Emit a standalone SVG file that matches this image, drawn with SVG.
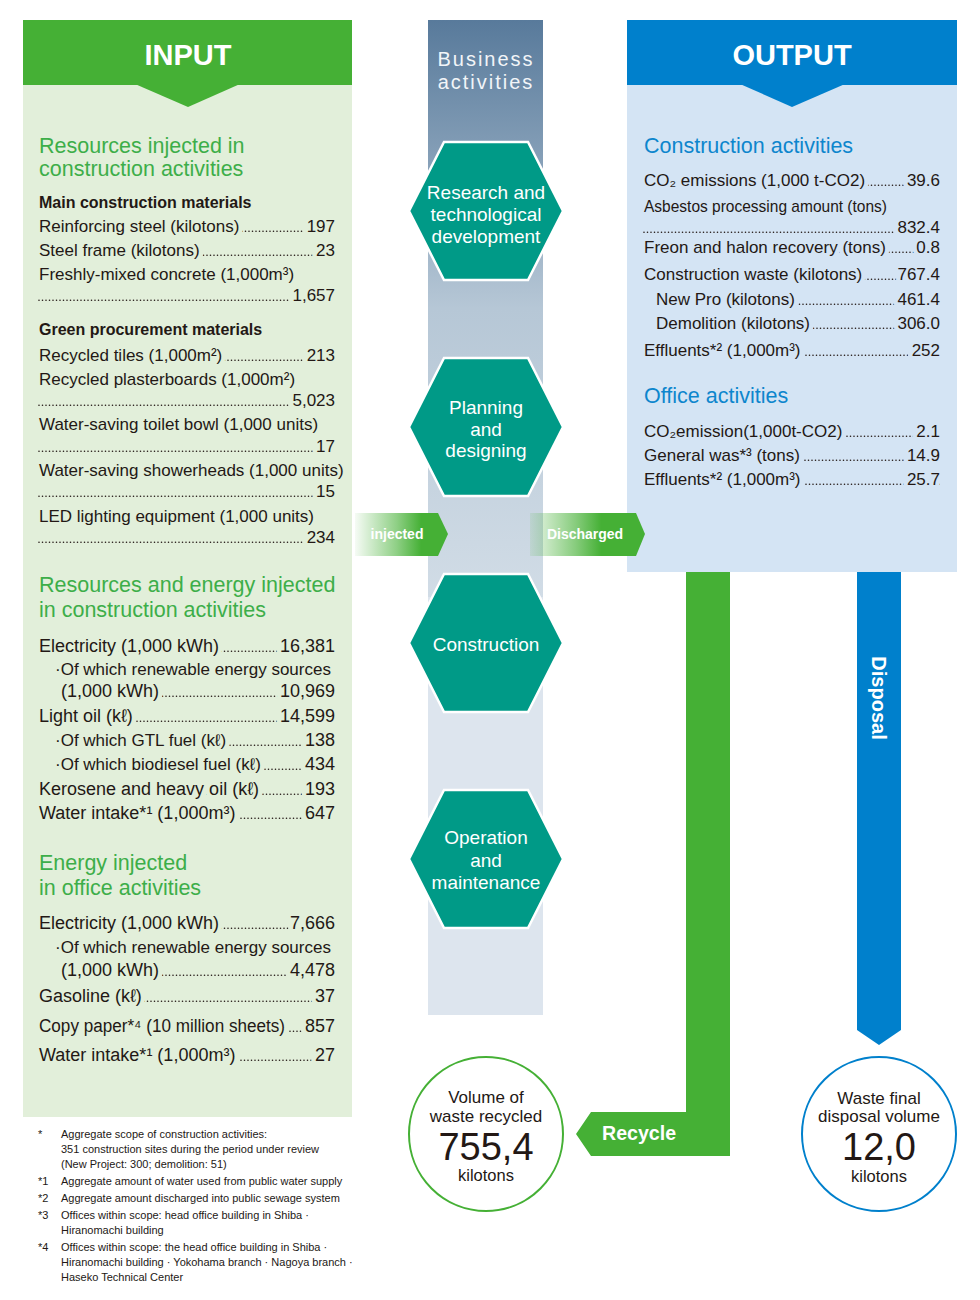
<svg xmlns="http://www.w3.org/2000/svg" width="980" height="1300" viewBox="0 0 980 1300">
<style>
.t{font-family:'Liberation Sans','DejaVu Sans',sans-serif;fill:#231815}
.s16b{font-size:16px;font-weight:bold}
.s17{font-size:17px}
.s18{font-size:18px}
.hin{font-size:21.5px;fill:#3dae49}
.hout{font-size:21.5px;fill:#0d86cd}
.mi{stroke:#e2efda;stroke-width:9;paint-order:stroke;stroke-linejoin:round}
.mo{stroke:#d4e4f4;stroke-width:9;paint-order:stroke;stroke-linejoin:round}
.ld{stroke:#231815;stroke-width:1.6;stroke-dasharray:0 3.5;stroke-linecap:round;fill:none}
.e{text-anchor:end}
.m{text-anchor:middle}
.hdr{font-family:'Liberation Sans',sans-serif;font-size:29px;font-weight:bold;fill:#fff;text-anchor:middle}
.hx{font-family:'Liberation Sans',sans-serif;font-size:19px;fill:#fff;text-anchor:middle}
.hexs{fill:#009a87;stroke:#fff;stroke-width:2.5}
.arr{font-family:'Liberation Sans',sans-serif;font-weight:bold;fill:#fff}
.fn{font-family:'Liberation Sans',sans-serif;font-size:11px;fill:#231815}
</style>
<defs>
<polygon id="hex" class="hexs" points="-77,0 -42,-69 42,-69 77,0 42,69 -42,69"/>
<linearGradient id="colg" x1="0" y1="20" x2="0" y2="597" gradientUnits="userSpaceOnUse">
<stop offset="0" stop-color="#587a9b"/>
<stop offset="0.5" stop-color="#b6c7d6"/>
<stop offset="1" stop-color="#d1dce6"/>
</linearGradient>
<linearGradient id="ing" x1="355" y1="0" x2="447" y2="0" gradientUnits="userSpaceOnUse">
<stop offset="0" stop-color="#45b035" stop-opacity="0.05"/>
<stop offset="0.45" stop-color="#45b035" stop-opacity="0.6"/>
<stop offset="0.72" stop-color="#45b035" stop-opacity="1"/>
<stop offset="1" stop-color="#45b035" stop-opacity="1"/>
</linearGradient>
<linearGradient id="disg" x1="530" y1="0" x2="645" y2="0" gradientUnits="userSpaceOnUse">
<stop offset="0" stop-color="#45b035" stop-opacity="0.1"/>
<stop offset="0.4" stop-color="#45b035" stop-opacity="0.65"/>
<stop offset="0.62" stop-color="#45b035" stop-opacity="1"/>
<stop offset="1" stop-color="#45b035" stop-opacity="1"/>
</linearGradient>
</defs>
<rect width="980" height="1300" fill="#fff"/>

<g id="input-panel">
<rect x="23" y="85" width="329" height="1032" fill="#e2efda"/>
<rect x="23" y="20" width="329" height="65" fill="#45b035"/>
<polygon points="135,84 240,84 188,107" fill="#45b035"/>
<text class="hdr" x="188" y="65">INPUT</text>
<path class="ld" d="M39 231.2H335M39 255.2H335M39 300.2H335M39 360.2H335M39 405.2H335M39 451.2H335M39 496.2H335M39 542.2H335M39 651.2H335M61 696.2H335M39 721.2H335M62 745.2H335M62 769.2H335M39 794.2H335M241 818.2H335M39 928.2H335M61 975.2H335M39 1001.2H335M290 1031.2H335M241 1060.2H335"/>
<g class="t">
<text class="hin" x="39" y="153">Resources injected in</text>
<text class="hin" x="39" y="176">construction activities</text>
<text class="s16b" x="39" y="208">Main construction materials</text>
<text class="s17 mi" x="39" y="232">Reinforcing steel (kilotons)</text><text class="s17 mi e" x="335" y="232">197</text>
<text class="s17 mi" x="39" y="256">Steel frame (kilotons)</text><text class="s17 mi e" x="335" y="256">23</text>
<text class="s17" x="39" y="280">Freshly-mixed concrete (1,000m³)</text>
<text class="s17 mi e" x="335" y="301">1,657</text>
<text class="s16b" x="39" y="335">Green procurement materials</text>
<text class="s17 mi" x="39" y="361">Recycled tiles (1,000m²)</text><text class="s17 mi e" x="335" y="361">213</text>
<text class="s17" x="39" y="385">Recycled plasterboards (1,000m²)</text>
<text class="s17 mi e" x="335" y="406">5,023</text>
<text class="s17" x="39" y="430">Water-saving toilet bowl (1,000 units)</text>
<text class="s17 mi e" x="335" y="452">17</text>
<text class="s17" x="39" y="476">Water-saving showerheads (1,000 units)</text>
<text class="s17 mi e" x="335" y="497">15</text>
<text class="s17" x="39" y="522">LED lighting equipment (1,000 units)</text>
<text class="s17 mi e" x="335" y="543">234</text>

<text class="hin" x="39" y="592">Resources and energy injected</text>
<text class="hin" x="39" y="617">in construction activities</text>
<text class="s18 mi" x="39" y="652">Electricity (1,000 kWh)</text><text class="s18 mi e" x="335" y="652">16,381</text>
<text class="s17" x="55" y="675">·Of which renewable energy sources</text>
<text class="s18 mi" x="61" y="697">(1,000 kWh)</text><text class="s18 mi e" x="335" y="697">10,969</text>
<text class="s18 mi" x="39" y="722">Light oil (kℓ)</text><text class="s18 mi e" x="335" y="722">14,599</text>
<text class="s17 mi" x="55" y="746">·Of which GTL fuel (kℓ)</text><text class="s18 mi e" x="335" y="746">138</text>
<text class="s17 mi" x="55" y="770">·Of which biodiesel fuel (kℓ)</text><text class="s18 mi e" x="335" y="770">434</text>
<text class="s18 mi" x="39" y="795">Kerosene and heavy oil (kℓ)</text><text class="s18 mi e" x="335" y="795">193</text>
<text class="s18 mi" x="39" y="819">Water intake*¹ (1,000m³)</text><text class="s18 mi e" x="335" y="819">647</text>

<text class="hin" x="39" y="870">Energy injected</text>
<text class="hin" x="39" y="895">in office activities</text>
<text class="s18 mi" x="39" y="929">Electricity (1,000 kWh)</text><text class="s18 mi e" x="335" y="929">7,666</text>
<text class="s17" x="55" y="953">·Of which renewable energy sources</text>
<text class="s18 mi" x="61" y="976">(1,000 kWh)</text><text class="s18 mi e" x="335" y="976">4,478</text>
<text class="s18 mi" x="39" y="1002">Gasoline (kℓ)</text><text class="s18 mi e" x="335" y="1002">37</text>
<text class="s18 mi" x="39" y="1032" textLength="246" lengthAdjust="spacingAndGlyphs">Copy paper*⁴ (10 million sheets)</text><text class="s18 mi e" x="335" y="1032">857</text>
<text class="s18 mi" x="39" y="1061">Water intake*¹ (1,000m³)</text><text class="s18 mi e" x="335" y="1061">27</text>
</g>
</g>

<g id="output-panel">
<rect x="627" y="85" width="330" height="487" fill="#d4e4f4"/>
<rect x="627" y="20" width="330" height="65" fill="#0080cc"/>
<polygon points="740,84 845,84 792,107" fill="#0080cc"/>
<text class="hdr" x="792" y="65">OUTPUT</text>
<path class="ld" d="M644 185.2H940M644 232.2H940M644 252.2H940M644 279.2H940M656 304.2H940M656 328.2H940M806 355.2H940M644 436.2H940M805 460.2H940M806 484.2H940"/>
<g class="t">
<text class="hout" x="644" y="153">Construction activities</text>
<text class="s17 mo" x="644" y="186">CO₂ emissions (1,000 t-CO2)</text><text class="s17 mo e" x="940" y="186">39.6</text>
<text class="s17" x="644" y="212" textLength="243" lengthAdjust="spacingAndGlyphs">Asbestos processing amount (tons)</text>
<text class="s17 mo e" x="940" y="233">832.4</text>
<text class="s17 mo" x="644" y="253">Freon and halon recovery (tons)</text><text class="s17 mo e" x="940" y="253">0.8</text>
<text class="s17 mo" x="644" y="280">Construction waste (kilotons)</text><text class="s17 mo e" x="940" y="280">767.4</text>
<text class="s17 mo" x="656" y="305">New Pro (kilotons)</text><text class="s17 mo e" x="940" y="305">461.4</text>
<text class="s17 mo" x="656" y="329">Demolition (kilotons)</text><text class="s17 mo e" x="940" y="329">306.0</text>
<text class="s17 mo" x="644" y="356">Effluents*² (1,000m³)</text><text class="s17 mo e" x="940" y="356">252</text>
<text class="hout" x="644" y="403">Office activities</text>
<text class="s17 mo" x="644" y="437">CO₂emission(1,000t-CO2)</text><text class="s17 mo e" x="940" y="437">2.1</text>
<text class="s17 mo" x="644" y="461">General was*³ (tons)</text><text class="s17 mo e" x="940" y="461">14.9</text>
<text class="s17 mo" x="644" y="485">Effluents*² (1,000m³)</text><text class="s17 mo e" x="940" y="485">25.7</text>
</g>
</g>

<g id="business-activities">
<rect x="428" y="20" width="115" height="577" fill="url(#colg)"/>
<rect x="428" y="597" width="115" height="418" fill="#dde5ee"/>
<text x="486" y="66" font-family="Liberation Sans, sans-serif" font-size="20" letter-spacing="2" fill="#f2f5f8" text-anchor="middle">Business</text>
<text x="486" y="89" font-family="Liberation Sans, sans-serif" font-size="20" letter-spacing="2" fill="#f2f5f8" text-anchor="middle">activities</text>
</g>

<g id="connectors">
<g id="injected">
<polygon points="355,513 438,513 448,534 438,556 355,556" fill="url(#ing)"/>
<text class="arr" x="397" y="539" font-size="14" text-anchor="middle">injected</text>
</g>
<g id="discharged">
<polygon points="530,513 636,513 645,534 636,556 530,556" fill="url(#disg)"/>
<text class="arr" x="585" y="539" font-size="14" text-anchor="middle">Discharged</text>
</g>
<g id="recycle">
<polygon points="686,572 730,572 730,1156 591,1156 576,1134 591,1112 686,1112" fill="#45b035"/>
<text class="arr" x="602" y="1140" font-size="19.6">Recycle</text>
</g>
<g id="disposal">
<polygon points="857,572 901,572 901,1030 879,1045 857,1030" fill="#0080cc"/>
<text class="arr" font-size="20" text-anchor="middle" transform="translate(872,698) rotate(90)">Disposal</text>
</g>
</g>

<g id="hex-research">
<use href="#hex" x="486" y="211"/>
<text class="hx" x="486" y="199">Research and</text>
<text class="hx" x="486" y="221">technological</text>
<text class="hx" x="486" y="243">development</text>
</g>
<g id="hex-planning">
<use href="#hex" x="486" y="427"/>
<text class="hx" x="486" y="414">Planning</text>
<text class="hx" x="486" y="436">and</text>
<text class="hx" x="486" y="457">designing</text>
</g>
<g id="hex-construction">
<use href="#hex" x="486" y="643"/>
<text class="hx" x="486" y="651" font-size="20.5">Construction</text>
</g>
<g id="hex-operation">
<use href="#hex" x="486" y="859"/>
<text class="hx" x="486" y="844">Operation</text>
<text class="hx" x="486" y="867">and</text>
<text class="hx" x="486" y="889">maintenance</text>
</g>

<g id="recycled-volume">
<circle cx="486" cy="1134" r="77" fill="#fff" stroke="#45b035" stroke-width="2"/>
<g class="t m">
<text class="s17" x="486" y="1103">Volume of</text>
<text class="s17" x="486" y="1122">waste recycled</text>
<text x="486" y="1160" font-size="38">755,4</text>
<text x="486" y="1181" font-size="16.5">kilotons</text>
</g>
</g>
<g id="disposal-volume">
<circle cx="879" cy="1134" r="77" fill="#fff" stroke="#0080cc" stroke-width="2"/>
<g class="t m">
<text class="s17" x="879" y="1104">Waste final</text>
<text class="s17" x="879" y="1122">disposal volume</text>
<text x="879" y="1160" font-size="38">12,0</text>
<text x="879" y="1182" font-size="16.5">kilotons</text>
</g>
</g>

<g id="footnotes" class="fn">
<text x="38" y="1138">*</text><text x="61" y="1138">Aggregate scope of construction activities:</text>
<text x="61" y="1153">351 construction sites during the period under review</text>
<text x="61" y="1168">(New Project: 300; demolition: 51)</text>
<text x="38" y="1185">*1</text><text x="61" y="1185">Aggregate amount of water used from public water supply</text>
<text x="38" y="1202">*2</text><text x="61" y="1202">Aggregate amount discharged into public sewage system</text>
<text x="38" y="1219">*3</text><text x="61" y="1219">Offices within scope: head office building in Shiba ·</text>
<text x="61" y="1234">Hiranomachi building</text>
<text x="38" y="1251">*4</text><text x="61" y="1251">Offices within scope: the head office building in Shiba ·</text>
<text x="61" y="1266">Hiranomachi building · Yokohama branch · Nagoya branch ·</text>
<text x="61" y="1281">Haseko Technical Center</text>
</g>
</svg>
